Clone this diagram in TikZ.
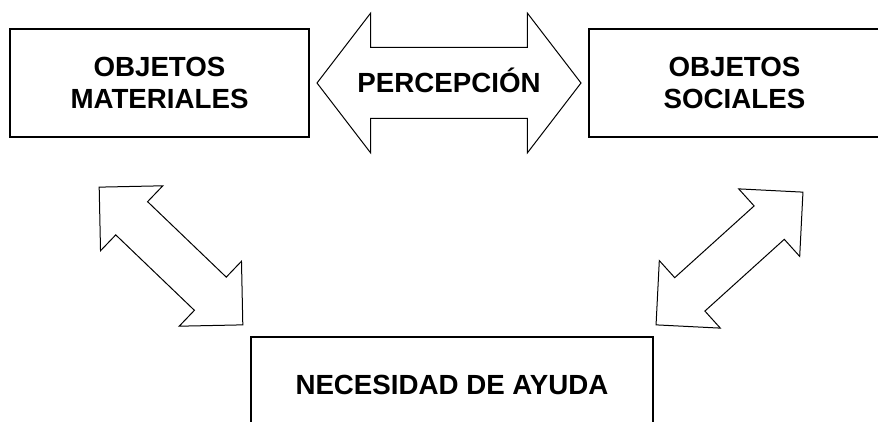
\documentclass[tikz,border=0pt]{standalone}
\usepackage{fontspec}
\setmainfont{Liberation Sans}
\usetikzlibrary{shapes.arrows}

\begin{document}
\begin{tikzpicture}[x=1pt,y=-1pt]
    \tikzset{
      boxnode/.style={draw,line width=1.5pt,align=center,inner sep=0pt,
                   font=\fontsize{27.7}{32}\selectfont\bfseries},
      blockarrow/.style={draw,line width=1pt,double arrow,inner xsep=0pt,
                   font=\fontsize{27.7}{32}\selectfont\bfseries}
    }
    \useasboundingbox (0,0) rectangle (878,422);
    \clip (0,0) rectangle (878,422);
    \node[boxnode,minimum width=299pt,minimum height=108pt] (materiales) at (159.5,83)
          {OBJETOS\\MATERIALES};
    \node[boxnode,minimum width=291pt,minimum height=108pt] (sociales) at (734.5,83)
          {OBJETOS\\SOCIALES};
    \node[boxnode,minimum width=402pt,minimum height=95pt] (ayuda) at (452,384.5)
          {NECESIDAD DE AYUDA};

    \node[blockarrow,text height=20pt,text depth=0pt,inner ysep=25pt,
          double arrow head extend=34.5pt,double arrow tip angle=105,
          minimum height=264pt] (percepcion) at (449,83) {PERCEPCIÓN};
    \node[blockarrow,inner ysep=22.5pt,double arrow head extend=22pt,
          double arrow tip angle=90,minimum height=199pt,rotate=-43.8] (izq) at (171,256) {};
    \node[blockarrow,inner ysep=22pt,double arrow head extend=23pt,
          double arrow tip angle=90,minimum height=198pt,rotate=42.1] (der) at (729.5,258.5) {};
  \end{tikzpicture}
\end{document}
